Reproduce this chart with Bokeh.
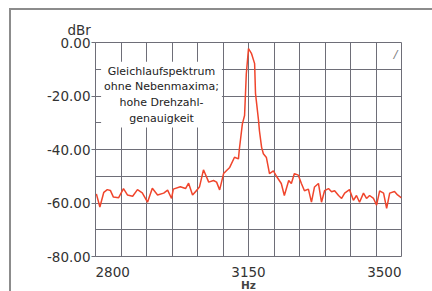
from bokeh.plotting import figure
from bokeh.layouts import column
from bokeh.models import Range1d, FixedTicker, NumeralTickFormatter, Label, ColumnDataSource
from bokeh.core.properties import value
from bokeh.embed import file_html
from bokeh.resources import INLINE

# spectrum data (Hz, dBr)
freq = [2802, 2810, 2819, 2827, 2834, 2841, 2853, 2864, 2873, 2885, 2896, 2907, 2919, 2930,
        2942, 2956, 2965, 2974, 2978, 2994, 3006, 3013, 3022, 3033, 3038, 3047, 3059, 3070,
        3077, 3084, 3093, 3107, 3118, 3127, 3129, 3136, 3141, 3145, 3150, 3157, 3164, 3166,
        3173, 3175, 3180, 3184, 3191, 3198, 3207, 3214, 3225, 3232, 3242, 3248, 3255, 3264,
        3271, 3278, 3287, 3294, 3301, 3310, 3317, 3324, 3333, 3340, 3347, 3356, 3363, 3370,
        3381, 3390, 3397, 3404, 3413, 3420, 3427, 3436, 3443, 3450, 3459, 3466, 3473, 3484,
        3491, 3500]
level = [-56.6, -61.5, -56.0, -55.0, -55.3, -57.8, -58.0, -54.6, -57.0, -57.5, -55.0, -56.2,
         -59.7, -54.5, -57.0, -56.3, -55.2, -58.3, -54.8, -53.9, -54.6, -52.6, -57.0, -55.0,
         -53.9, -47.6, -52.2, -51.6, -52.2, -55.1, -49.0, -46.7, -42.9, -43.5, -40.0, -30.4,
         -27.3, -11.7, -2.3, -4.2, -7.9, -19.0, -29.2, -33.0, -39.2, -41.6, -43.0, -49.0,
         -48.0, -50.0, -52.7, -57.2, -51.6, -52.7, -49.0, -49.6, -52.7, -55.4, -54.8, -59.7,
         -54.0, -52.7, -59.7, -55.4, -54.6, -55.8, -55.4, -57.2, -58.3, -56.3, -55.0, -59.0,
         -57.2, -59.7, -56.3, -58.3, -57.2, -58.3, -60.8, -55.5, -56.3, -62.0, -56.3, -55.7,
         -57.0, -58.1]

x_tick_values = [2800, 3150, 3500]
x_tick_labels = ["2800", "3150", "3500"]
x_tick_aligns = ["left", "center", "right"]
y_ticks = [-80, -60, -40, -20, 0]
title_text = "Gleichlaufspektrum\nohne Nebenmaxima;\nhohe Drehzahl-\ngenauigkeit"

GRID = "#6e6e78"
TXT = "#333333"
FONT = "DejaVu Sans"
TICK_SIZE = "13.5px"

W = 421
p = figure(width=W, height=255, output_backend="svg", toolbar_location=None,
           x_range=Range1d(2800, 3500), y_range=Range1d(-80, 0),
           min_border_left=84, min_border_right=31, min_border_top=32, min_border_bottom=9)
p.outline_line_color = GRID
p.outline_line_width = 1
p.xaxis.visible = False

p.title.text = "dBr"
p.title.align = "left"
p.title.offset = -28
p.title.standoff = 10
p.title.text_font = FONT
p.title.text_font_size = TICK_SIZE
p.title.text_font_style = "normal"
p.title.text_color = TXT

yax = p.yaxis[0]
yax.ticker = FixedTicker(ticks=y_ticks)
yax.formatter = NumeralTickFormatter(format="0.00")
yax.axis_line_color = GRID
yax.major_tick_line_color = GRID
yax.major_tick_out = 4
yax.major_tick_in = 0
yax.minor_tick_line_color = None
yax.major_label_standoff = 1
yax.major_label_text_font = FONT
yax.major_label_text_font_size = TICK_SIZE
yax.major_label_text_color = TXT

step = 700 / 12
p.xgrid.ticker = FixedTicker(ticks=[2800 + i * step for i in range(13)])
p.ygrid.ticker = FixedTicker(ticks=list(range(-80, 1, 10)))
for g in (p.xgrid[0], p.ygrid[0]):
    g.grid_line_color = GRID
    g.grid_line_width = 1

src = ColumnDataSource(dict(f=freq, db=level))
p.line("f", "db", source=src, line_color="#f0452c", line_width=1.5)

p.add_layout(Label(x=2951, y=-19.5, text=title_text, text_align="center", text_baseline="middle",
                   text_font=FONT, text_font_size="11px", text_color="#222222",
                   text_line_height=1.2, background_fill_color="white", padding=3))
p.add_layout(Label(x=3500, y=0, text="/", text_align="right", text_baseline="top",
                   x_offset=-4, y_offset=-5, text_font=FONT, text_font_size="11px",
                   text_font_style="italic", text_color="#777777"))

# strip below the plot carrying the x tick labels and unit
q = figure(width=W, height=26, output_backend="svg", toolbar_location=None,
           x_range=p.x_range, y_range=Range1d(0, 1),
           min_border_left=84, min_border_right=31, min_border_top=0, min_border_bottom=0)
q.axis.visible = False
q.grid.visible = False
q.outline_line_color = None
for xv, lab, al in zip(x_tick_values, x_tick_labels, x_tick_aligns):
    q.text(x=[xv], y=[1], text=[lab], text_align=al, text_baseline="top", y_offset=1,
           text_font=value(FONT), text_font_size=TICK_SIZE, text_color=TXT)
q.text(x=[x_tick_values[1]], y=[1], text=["Hz"], text_align="center", text_baseline="top",
       y_offset=13, text_font=value(FONT), text_font_size="10.5px", text_font_style="bold",
       text_color="#444444")

layout = column(p, q, spacing=0)
layout.styles = {"margin-left": "9px", "margin-top": "8px",
                 "border-left": "2px solid #8c8c8c", "border-top": "2px solid #8c8c8c"}

open("out.html", "w").write(file_html(layout, INLINE))
